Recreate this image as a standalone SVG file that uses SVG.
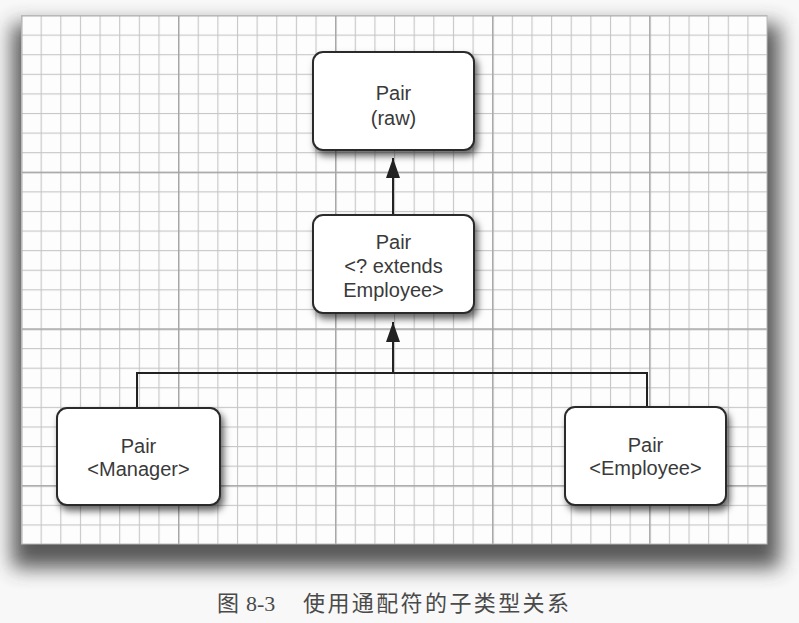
<svg xmlns="http://www.w3.org/2000/svg" width="799" height="623" viewBox="0 0 799 623">
  <defs>
    <style>
      .node rect { fill: #ffffff; stroke: #2b2b2b; stroke-width: 2; }
      .node text { font-family: "Liberation Sans", Arial, sans-serif; font-size: 20px; fill: #3a3a3a; text-anchor: middle; }
      .conn { fill: none; stroke: #222; stroke-width: 2; }
      .caption { font-family: "Liberation Serif", "Noto Sans CJK SC", serif; font-size: 22px; fill: #4a4a4a; }
    </style>
    <pattern id="minor" patternUnits="userSpaceOnUse" x="21" y="15" width="19.632" height="19.593">
      <rect x="0" y="0" width="1.1" height="19.593" fill="#c6c6c6"/>
      <rect x="0" y="0" width="19.632" height="1.1" fill="#c6c6c6"/>
    </pattern>
    <pattern id="major" patternUnits="userSpaceOnUse" x="21" y="15" width="157.05" height="156.74">
      <rect x="0" y="0" width="1.4" height="156.74" fill="#a4a4a4"/>
      <rect x="0" y="0" width="157.05" height="1.4" fill="#a4a4a4"/>
    </pattern>
    <filter id="panelShadow" x="-10%" y="-10%" width="120%" height="125%">
      <feGaussianBlur stdDeviation="10"/>
    </filter>
    <filter id="nodeShadow" x="-20%" y="-20%" width="140%" height="150%">
      <feDropShadow dx="3" dy="5" stdDeviation="3.5" flood-color="#000" flood-opacity="0.6"/>
    </filter>
    <marker id="arrowUp" markerUnits="userSpaceOnUse" markerWidth="22" markerHeight="16" viewBox="0 0 22 16" refX="21" refY="8" orient="auto">
      <path d="M21 8 L1 1 L1 15 Z" fill="#222"/>
    </marker>
  </defs>

  <rect x="0" y="0" width="799" height="623" fill="#f8f8f8"/>

  <!-- panel shadow -->
  <rect x="12" y="24" width="768" height="544" fill="#3c3c3c" opacity="0.85" filter="url(#panelShadow)"/>
  <!-- panel -->
  <rect x="21" y="15" width="746" height="529" fill="#fdfdfd"/>
  <rect x="21" y="15" width="746" height="529" fill="url(#minor)"/>
  <rect x="21" y="15" width="746" height="529" fill="url(#major)"/>
  <rect x="21.5" y="15.5" width="745.5" height="528.5" fill="none" stroke="#b8b8b8" stroke-width="1"/>

  <g id="connectors">
    <path class="conn" d="M393 215 V158" marker-end="url(#arrowUp)"/>
    <path class="conn" d="M393 373 V322" marker-end="url(#arrowUp)"/>
    <path class="conn" d="M137 407 V373 H647 V406"/>
  </g>

  <g id="node-raw" class="node">
    <rect x="313" y="52" width="161" height="98" rx="10" filter="url(#nodeShadow)"/>
    <text x="393.5" y="100">Pair</text>
    <text x="393.5" y="125">(raw)</text>
  </g>

  <g id="node-extends" class="node">
    <rect x="313" y="215" width="161" height="98" rx="10" filter="url(#nodeShadow)"/>
    <text x="393.5" y="249">Pair</text>
    <text x="393.5" y="273">&lt;? extends</text>
    <text x="393.5" y="297">Employee&gt;</text>
  </g>

  <g id="node-manager" class="node">
    <rect x="57" y="408" width="163" height="97" rx="10" filter="url(#nodeShadow)"/>
    <text x="138.5" y="453">Pair</text>
    <text x="138.5" y="476">&lt;Manager&gt;</text>
  </g>

  <g id="node-employee" class="node">
    <rect x="565" y="407" width="161" height="98" rx="10" filter="url(#nodeShadow)"/>
    <text x="645.5" y="452">Pair</text>
    <text x="645.5" y="475">&lt;Employee&gt;</text>
  </g>

  <g id="caption">
    <text class="caption" x="217" y="611">图</text>
    <text class="caption" x="246" y="611">8-3</text>
    <text class="caption" x="303" y="611" letter-spacing="2.4">使用通配符的子类型关系</text>
  </g>
</svg>
